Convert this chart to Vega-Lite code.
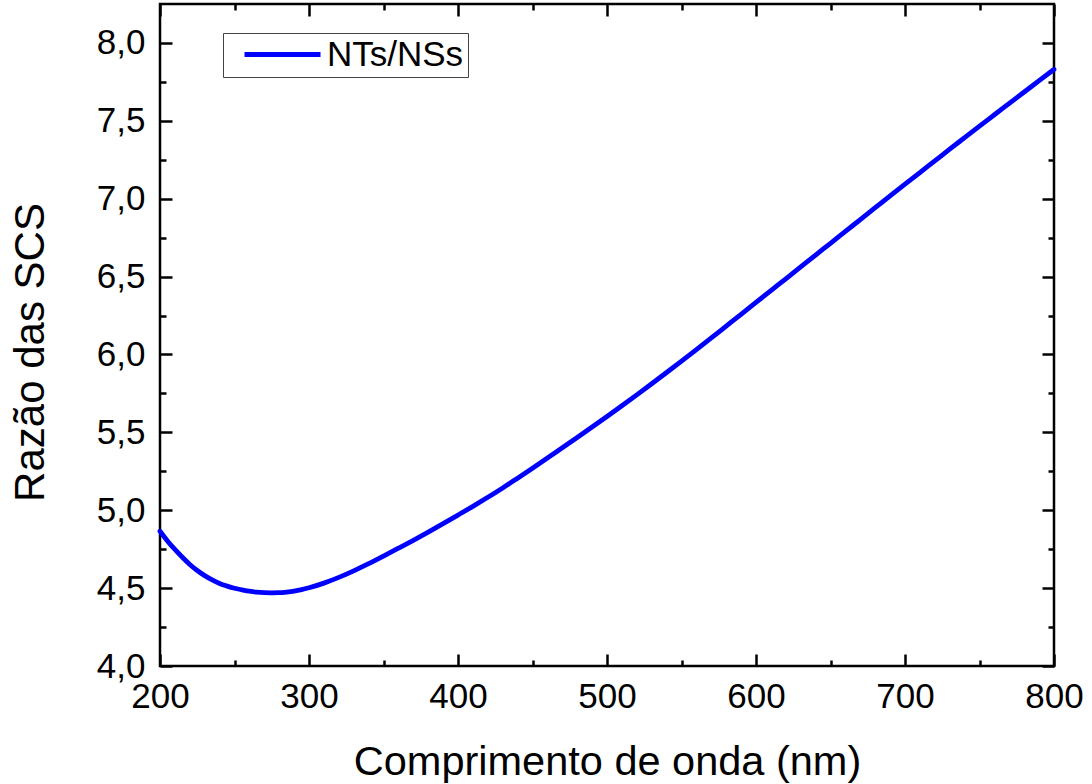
{
  "$schema": "https://vega.github.io/schema/vega-lite/v6.json",
  "autosize": "none",
  "width": 894,
  "height": 662,
  "padding": {"left": 160, "top": 4, "right": 38, "bottom": 118},
  "background": "white",
  "config": {
    "view": {"stroke": "black", "strokeWidth": 2.5},
    "font": "Liberation Sans",
    "axis": {
      "domain": false,
      "grid": false,
      "tickColor": "black",
      "tickWidth": 2.5,
      "labelColor": "black",
      "titleColor": "black",
      "labelFont": "Liberation Sans",
      "titleFont": "Liberation Sans",
      "titleFontWeight": "normal"
    }
  },
  "data": {
    "values": [
      {"wl": 200, "r": 4.865}, {"wl": 205, "r": 4.803}, {"wl": 210, "r": 4.748},
      {"wl": 215, "r": 4.698}, {"wl": 220, "r": 4.652}, {"wl": 225, "r": 4.613},
      {"wl": 230, "r": 4.580}, {"wl": 235, "r": 4.553}, {"wl": 240, "r": 4.530},
      {"wl": 245, "r": 4.513}, {"wl": 250, "r": 4.499}, {"wl": 255, "r": 4.489},
      {"wl": 260, "r": 4.480}, {"wl": 265, "r": 4.474}, {"wl": 270, "r": 4.471},
      {"wl": 275, "r": 4.470}, {"wl": 280, "r": 4.471}, {"wl": 285, "r": 4.475},
      {"wl": 290, "r": 4.481}, {"wl": 295, "r": 4.490}, {"wl": 300, "r": 4.502},
      {"wl": 310, "r": 4.532}, {"wl": 320, "r": 4.569}, {"wl": 330, "r": 4.611},
      {"wl": 340, "r": 4.657}, {"wl": 350, "r": 4.706}, {"wl": 360, "r": 4.756},
      {"wl": 370, "r": 4.807}, {"wl": 380, "r": 4.860}, {"wl": 390, "r": 4.914},
      {"wl": 400, "r": 4.969}, {"wl": 410, "r": 5.025}, {"wl": 420, "r": 5.083},
      {"wl": 430, "r": 5.143}, {"wl": 440, "r": 5.206}, {"wl": 450, "r": 5.270},
      {"wl": 460, "r": 5.335}, {"wl": 470, "r": 5.401}, {"wl": 480, "r": 5.467},
      {"wl": 490, "r": 5.534}, {"wl": 500, "r": 5.602}, {"wl": 510, "r": 5.671},
      {"wl": 520, "r": 5.741}, {"wl": 530, "r": 5.812}, {"wl": 540, "r": 5.884},
      {"wl": 550, "r": 5.957}, {"wl": 560, "r": 6.031}, {"wl": 570, "r": 6.106},
      {"wl": 580, "r": 6.182}, {"wl": 590, "r": 6.258}, {"wl": 600, "r": 6.334},
      {"wl": 610, "r": 6.410}, {"wl": 620, "r": 6.486}, {"wl": 630, "r": 6.562},
      {"wl": 640, "r": 6.638}, {"wl": 650, "r": 6.714}, {"wl": 660, "r": 6.790},
      {"wl": 670, "r": 6.866}, {"wl": 680, "r": 6.942}, {"wl": 690, "r": 7.018},
      {"wl": 700, "r": 7.093}, {"wl": 710, "r": 7.168}, {"wl": 720, "r": 7.243},
      {"wl": 730, "r": 7.318}, {"wl": 740, "r": 7.392}, {"wl": 750, "r": 7.466},
      {"wl": 760, "r": 7.539}, {"wl": 770, "r": 7.612}, {"wl": 780, "r": 7.685},
      {"wl": 790, "r": 7.758}, {"wl": 800, "r": 7.830}
    ]
  },
  "resolve": {"axis": {"x": "independent", "y": "independent"}},
  "layer": [
    {
      "mark": {"type": "line", "strokeWidth": 4.8, "interpolate": "monotone", "strokeCap": "round"},
      "encoding": {
        "x": {
          "field": "wl", "type": "quantitative",
          "scale": {"domain": [200, 800], "nice": false, "zero": false},
          "axis": {
            "orient": "bottom", "ticks": false, "values": [200, 300, 400, 500, 600, 700, 800],
            "labelFontSize": 35, "labelPadding": 13, "labelFlush": false, "labelOverlap": false,
            "title": "Comprimento de onda (nm)", "titleFontSize": 41.5,
            "titleBaseline": "alphabetic", "titleAlign": "center", "titleX": 447, "titleY": 108
          }
        },
        "y": {
          "field": "r", "type": "quantitative",
          "scale": {"domain": [4, 8.25], "nice": false, "zero": false},
          "axis": {
            "orient": "left", "ticks": false, "values": [4, 4.5, 5, 5.5, 6, 6.5, 7, 7.5, 8],
            "labelExpr": "replace(format(datum.value, '.1f'), '.', ',')",
            "labelFontSize": 35, "labelPadding": 15, "labelFlush": false, "labelOverlap": false,
            "title": "Razão das SCS", "titleFontSize": 42, "titleAngle": 270,
            "titleBaseline": "alphabetic", "titleAlign": "center", "titleX": -117, "titleY": 348
          }
        },
        "color": {
          "datum": "NTs/NSs",
          "scale": {"range": ["#0000ff"]},
          "legend": {
            "orient": "none", "legendX": 63, "legendY": 29, "title": null,
            "padding": 4, "strokeColor": "#444444",
            "symbolType": "M0,0H7.6", "symbolSize": 400, "symbolStrokeWidth": 5,
            "labelFontSize": 35, "labelFont": "Liberation Sans", "labelColor": "black",
            "labelOffset": 65
          }
        }
      }
    },
    {
      "mark": {"type": "line", "opacity": 0},
      "encoding": {
        "x": {
          "field": "wl", "type": "quantitative",
          "scale": {"domain": [200, 800], "nice": false, "zero": false},
          "axis": {"orient": "bottom", "labels": false, "title": null, "tickSize": -12,
                   "values": [200, 300, 400, 500, 600, 700, 800]}
        },
        "y": {
          "field": "r", "type": "quantitative",
          "scale": {"domain": [4, 8.25], "nice": false, "zero": false},
          "axis": {"orient": "left", "labels": false, "title": null, "tickSize": -12,
                   "values": [4, 4.5, 5, 5.5, 6, 6.5, 7, 7.5, 8]}
        }
      }
    },
    {
      "mark": {"type": "line", "opacity": 0},
      "encoding": {
        "x": {
          "field": "wl", "type": "quantitative",
          "scale": {"domain": [200, 800], "nice": false, "zero": false},
          "axis": {"orient": "top", "labels": false, "title": null, "tickSize": -12,
                   "values": [200, 300, 400, 500, 600, 700, 800]}
        },
        "y": {
          "field": "r", "type": "quantitative",
          "scale": {"domain": [4, 8.25], "nice": false, "zero": false},
          "axis": {"orient": "right", "labels": false, "title": null, "tickSize": -12,
                   "values": [4, 4.5, 5, 5.5, 6, 6.5, 7, 7.5, 8]}
        }
      }
    },
    {
      "mark": {"type": "line", "opacity": 0},
      "encoding": {
        "x": {
          "field": "wl", "type": "quantitative",
          "scale": {"domain": [200, 800], "nice": false, "zero": false},
          "axis": {"orient": "bottom", "labels": false, "title": null, "tickSize": -6,
                   "values": [250, 350, 450, 550, 650, 750]}
        },
        "y": {
          "field": "r", "type": "quantitative",
          "scale": {"domain": [4, 8.25], "nice": false, "zero": false},
          "axis": {"orient": "left", "labels": false, "title": null, "tickSize": -6,
                   "values": [4.25, 4.75, 5.25, 5.75, 6.25, 6.75, 7.25, 7.75]}
        }
      }
    },
    {
      "mark": {"type": "line", "opacity": 0},
      "encoding": {
        "x": {
          "field": "wl", "type": "quantitative",
          "scale": {"domain": [200, 800], "nice": false, "zero": false},
          "axis": {"orient": "top", "labels": false, "title": null, "tickSize": -6,
                   "values": [250, 350, 450, 550, 650, 750]}
        },
        "y": {
          "field": "r", "type": "quantitative",
          "scale": {"domain": [4, 8.25], "nice": false, "zero": false},
          "axis": {"orient": "right", "labels": false, "title": null, "tickSize": -6,
                   "values": [4.25, 4.75, 5.25, 5.75, 6.25, 6.75, 7.25, 7.75]}
        }
      }
    }
  ]
}
